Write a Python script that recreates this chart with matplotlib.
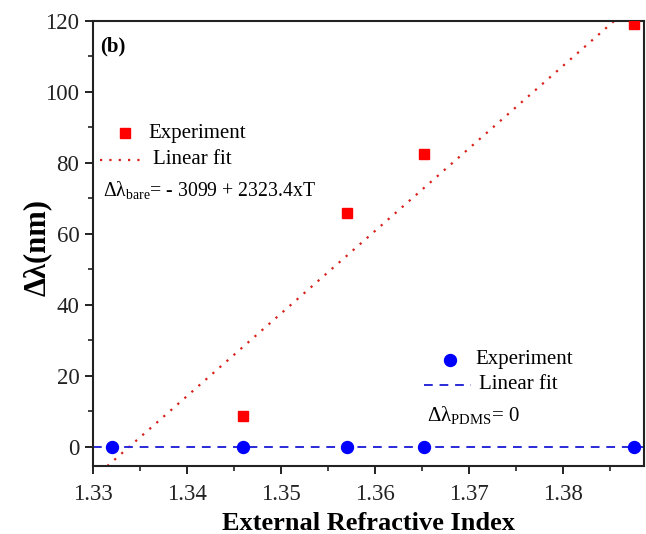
# -*- coding: utf-8 -*-

import numpy as np
import matplotlib.pyplot as plt
from matplotlib.ticker import MultipleLocator, AutoMinorLocator

# 屈折率
ri_bare = [1.3320, 1.3459, 1.3570, 1.3652, 1.3875]
shift_bare = [-0.5, 8.7, 65.8, 82.4, 118.9]

ri_pdms = [1.3320, 1.3459, 1.3570, 1.3652, 1.3875]
shift_pdms = [0, 0, 0, 0, 0]

# 線形フィット係数
fit_a = -3099
fit_b = 2323.4

plt.rcParams['font.family'] = ['Liberation Serif', 'DejaVu Serif']
plt.rcParams['mathtext.fontset'] = 'custom'
plt.rcParams['mathtext.rm'] = 'Liberation Serif'
plt.rcParams['mathtext.it'] = 'Liberation Serif:italic'
plt.rcParams['mathtext.bf'] = 'Liberation Serif:bold'

fig = plt.figure(figsize=(6.46, 5.34), dpi=100)
ax = fig.add_axes([0.1444, 0.1273, 0.8526, 0.8343])

xlim = (1.33, 1.3886)
x_fit = np.linspace(xlim[0], xlim[1], 200)
ax.plot(x_fit, fit_a + fit_b * x_fit, ls=(0, (1, 3.2)), color='#d8201a', lw=1.6)
ax.axhline(0, ls=(0, (4.5, 3.5)), color='#2a2ad8', lw=1.4)

# 最初の赤点は枠の下にあるので描画しない
ax.plot(ri_bare[1:], shift_bare[1:], 's', color='#ff0000', ms=7.8, ls='none', zorder=3)
ax.plot(ri_pdms, shift_pdms, 'o', color='#0000ff', ms=8.6, ls='none', zorder=4,
        clip_on=False)

ax.set_xlim(xlim)
ax.set_ylim(-5.4, 120)
ax.xaxis.set_minor_locator(AutoMinorLocator(2))
ax.yaxis.set_major_locator(MultipleLocator(20))
ax.yaxis.set_minor_locator(AutoMinorLocator(2))
ax.set_xticks([1.33, 1.34, 1.35, 1.36, 1.37, 1.38])
ax.set_xticklabels(['1.33', '1.34', '1.35', '1.36', '1.37', '1.38'])

ax.tick_params(which='major', direction='out', length=6, width=1.4, labelsize=16.5,
               colors='#222222')
ax.tick_params(axis='x', which='major', pad=7)
ax.tick_params(axis='y', which='major', pad=4)
ax.tick_params(which='minor', direction='out', length=3.5, width=1.2, colors='#222222')
for s in ax.spines.values():
    s.set_linewidth(1.5)
    s.set_color('#222222')

ax.set_xlabel('External Refractive Index', fontsize=19, fontweight='bold', labelpad=5)
ax.set_ylabel('Δλ(nm)', fontsize=22, fontweight='bold')
ax.yaxis.set_label_coords(-0.075, 0.49)

ax.text(0.012, 0.965, '(b)', transform=ax.transAxes, fontsize=15, fontweight='bold',
        va='top', ha='left')

# 凡例（手描き）
tr = ax.transAxes
ax.plot([0.058], [0.747], 's', color='#ff0000', ms=7.8, transform=tr, clip_on=False)
ax.text(0.1, 0.747, 'Experiment', transform=tr, fontsize=15, va='center')
ax.plot([0.013, 0.095], [0.687, 0.687], ls=(0, (1, 3.2)), color='#d8201a', lw=1.6,
        transform=tr)
ax.text(0.108, 0.687, 'Linear fit', transform=tr, fontsize=15, va='center')
ax.text(0.018, 0.62, r'$\mathrm{Δλ}_{\mathrm{bare}}$= - 3099 + 2323.4xT',
        transform=tr, fontsize=14.2, va='center')

ax.plot([0.648], [0.238], 'o', color='#0000ff', ms=8.6, transform=tr, clip_on=False)
ax.text(0.694, 0.238, 'Experiment', transform=tr, fontsize=15, va='center')
ax.plot([0.6, 0.686], [0.182, 0.182], ls=(0, (4.5, 3.5)), color='#2a2ad8', lw=1.4,
        transform=tr)
ax.text(0.7, 0.182, 'Linear fit', transform=tr, fontsize=15, va='center')
ax.text(0.605, 0.115, r'$\mathrm{Δλ}_{\mathrm{PDMS}}$= 0', transform=tr,
        fontsize=15, va='center')

fig.savefig('out.png', dpi=100)
